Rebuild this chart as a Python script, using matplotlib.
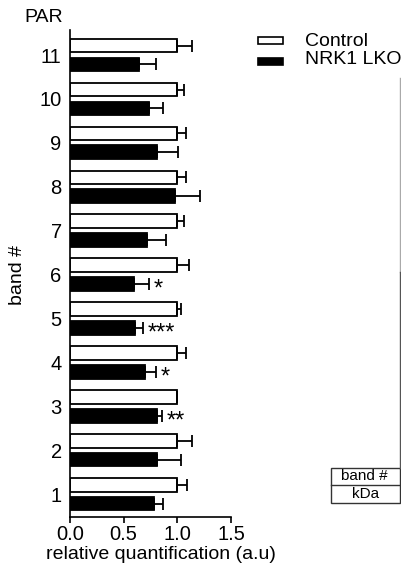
import numpy as np
import matplotlib.pyplot as plt
from matplotlib.lines import Line2D
from matplotlib.patches import Rectangle

plt.rcParams['font.family'] = ['Liberation Sans', 'DejaVu Sans']

# bands 1..11
bands = ["1", "2", "3", "4", "5", "6", "7", "8", "9", "10", "11"]
control = [1.0, 1.0, 1.0, 1.0, 1.0, 1.0, 1.0, 1.0, 1.0, 1.0, 1.0]
control_err = [0.09, 0.14, 0.0, 0.08, 0.03, 0.11, 0.06, 0.08, 0.08, 0.06, 0.14]
lko = [0.78, 0.81, 0.81, 0.70, 0.61, 0.60, 0.72, 0.98, 0.81, 0.74, 0.645]
lko_err = [0.09, 0.22, 0.05, 0.10, 0.07, 0.14, 0.17, 0.23, 0.20, 0.13, 0.155]
stars = ["", "", "**", "*", "***", "*", "", "", "", "", ""]
xticks = [0.0, 0.5, 1.0, 1.5]

fig = plt.figure(figsize=(4.01, 5.66), dpi=100)
ax = fig.add_axes([70 / 401, 1 - 517 / 566, 161 / 401, 487 / 566])

y = np.arange(1, len(bands) + 1)
h = 0.31
off = 0.215

ax.barh(y + off, control, height=h, color="white", edgecolor="black", linewidth=1.3)
ax.barh(y - off, lko, height=h, color="black", edgecolor="black", linewidth=1.3)
ax.errorbar(control, y + off, xerr=[np.zeros(len(bands)), control_err], fmt="none",
            ecolor="black", elinewidth=1.3, capsize=4, capthick=1.3)
ax.errorbar(lko, y - off, xerr=[np.zeros(len(bands)), lko_err], fmt="none",
            ecolor="black", elinewidth=1.3, capsize=4, capthick=1.3)

for yi, v, e, s in zip(y, lko, lko_err, stars):
    if s:
        ax.text(v + e + 0.04, yi - off - 0.12, s, fontsize=17, ha="left", va="center")

ax.set_xlim(0, 1.5)
ax.set_ylim(0.48, 11.57)
ax.set_xticks(xticks)
ax.set_xticklabels(["0.0", "0.5", "1.0", "1.5"], fontsize=14.5)
ax.set_yticks(y)
ax.set_yticklabels(bands, fontsize=14.5)
ax.tick_params(axis="y", length=0, pad=6)
ax.tick_params(axis="x", length=4, width=1.2, pad=2)
for sp in ["top", "right"]:
    ax.spines[sp].set_visible(False)
for sp in ["left", "bottom"]:
    ax.spines[sp].set_linewidth(1.2)
ax.set_xlabel("relative quantification (a.u)", fontsize=14)
ax.set_ylabel("band #", fontsize=14)
# label positions in axes fractions (axes is 161 x 487 px)
ax.xaxis.set_label_coords((161 - 70) / 161, -(546 - 517) / 487)
ax.yaxis.set_label_coords(-(70 - 26) / 161, (517 - 275) / 487)

fig.text(24 / 401, 1 - 17 / 566, "PAR", fontsize=14, va="center", ha="left")

# legend
fig.patches.append(Rectangle((258 / 401, 1 - 44 / 566), 25 / 401, 7 / 566, transform=fig.transFigure,
                             facecolor="white", edgecolor="black", linewidth=1.2))
fig.patches.append(Rectangle((258 / 401, 1 - 65 / 566), 25 / 401, 7 / 566, transform=fig.transFigure,
                             facecolor="black", edgecolor="black", linewidth=1.2))
fig.text(305 / 401, 1 - 41 / 566, "Control", fontsize=14, va="center", ha="left")
fig.text(305 / 401, 1 - 60 / 566, "NRK1 LKO", fontsize=14, va="center", ha="left")

# leftover lines and small table on the right
fig.add_artist(Line2D([399.5 / 401] * 2, [1 - 78 / 566, 1 - 272 / 566], color="#aaaaaa", linewidth=1))
fig.add_artist(Line2D([399.5 / 401] * 2, [1 - 272 / 566, 1 - 468 / 566], color="#555555", linewidth=1))
fig.patches.append(Rectangle((331 / 401, 1 - 503 / 566), 69 / 401, 35 / 566, transform=fig.transFigure,
                             facecolor="none", edgecolor="#333333", linewidth=1))
fig.add_artist(Line2D([331 / 401, 400 / 401], [1 - 485 / 566] * 2, color="#333333", linewidth=1))
fig.text(364 / 401, 1 - 476 / 566, "band #", fontsize=11, va="center", ha="center")
fig.text(366 / 401, 1 - 494 / 566, "kDa", fontsize=11, va="center", ha="center")

fig.savefig("out.png", dpi=100)
